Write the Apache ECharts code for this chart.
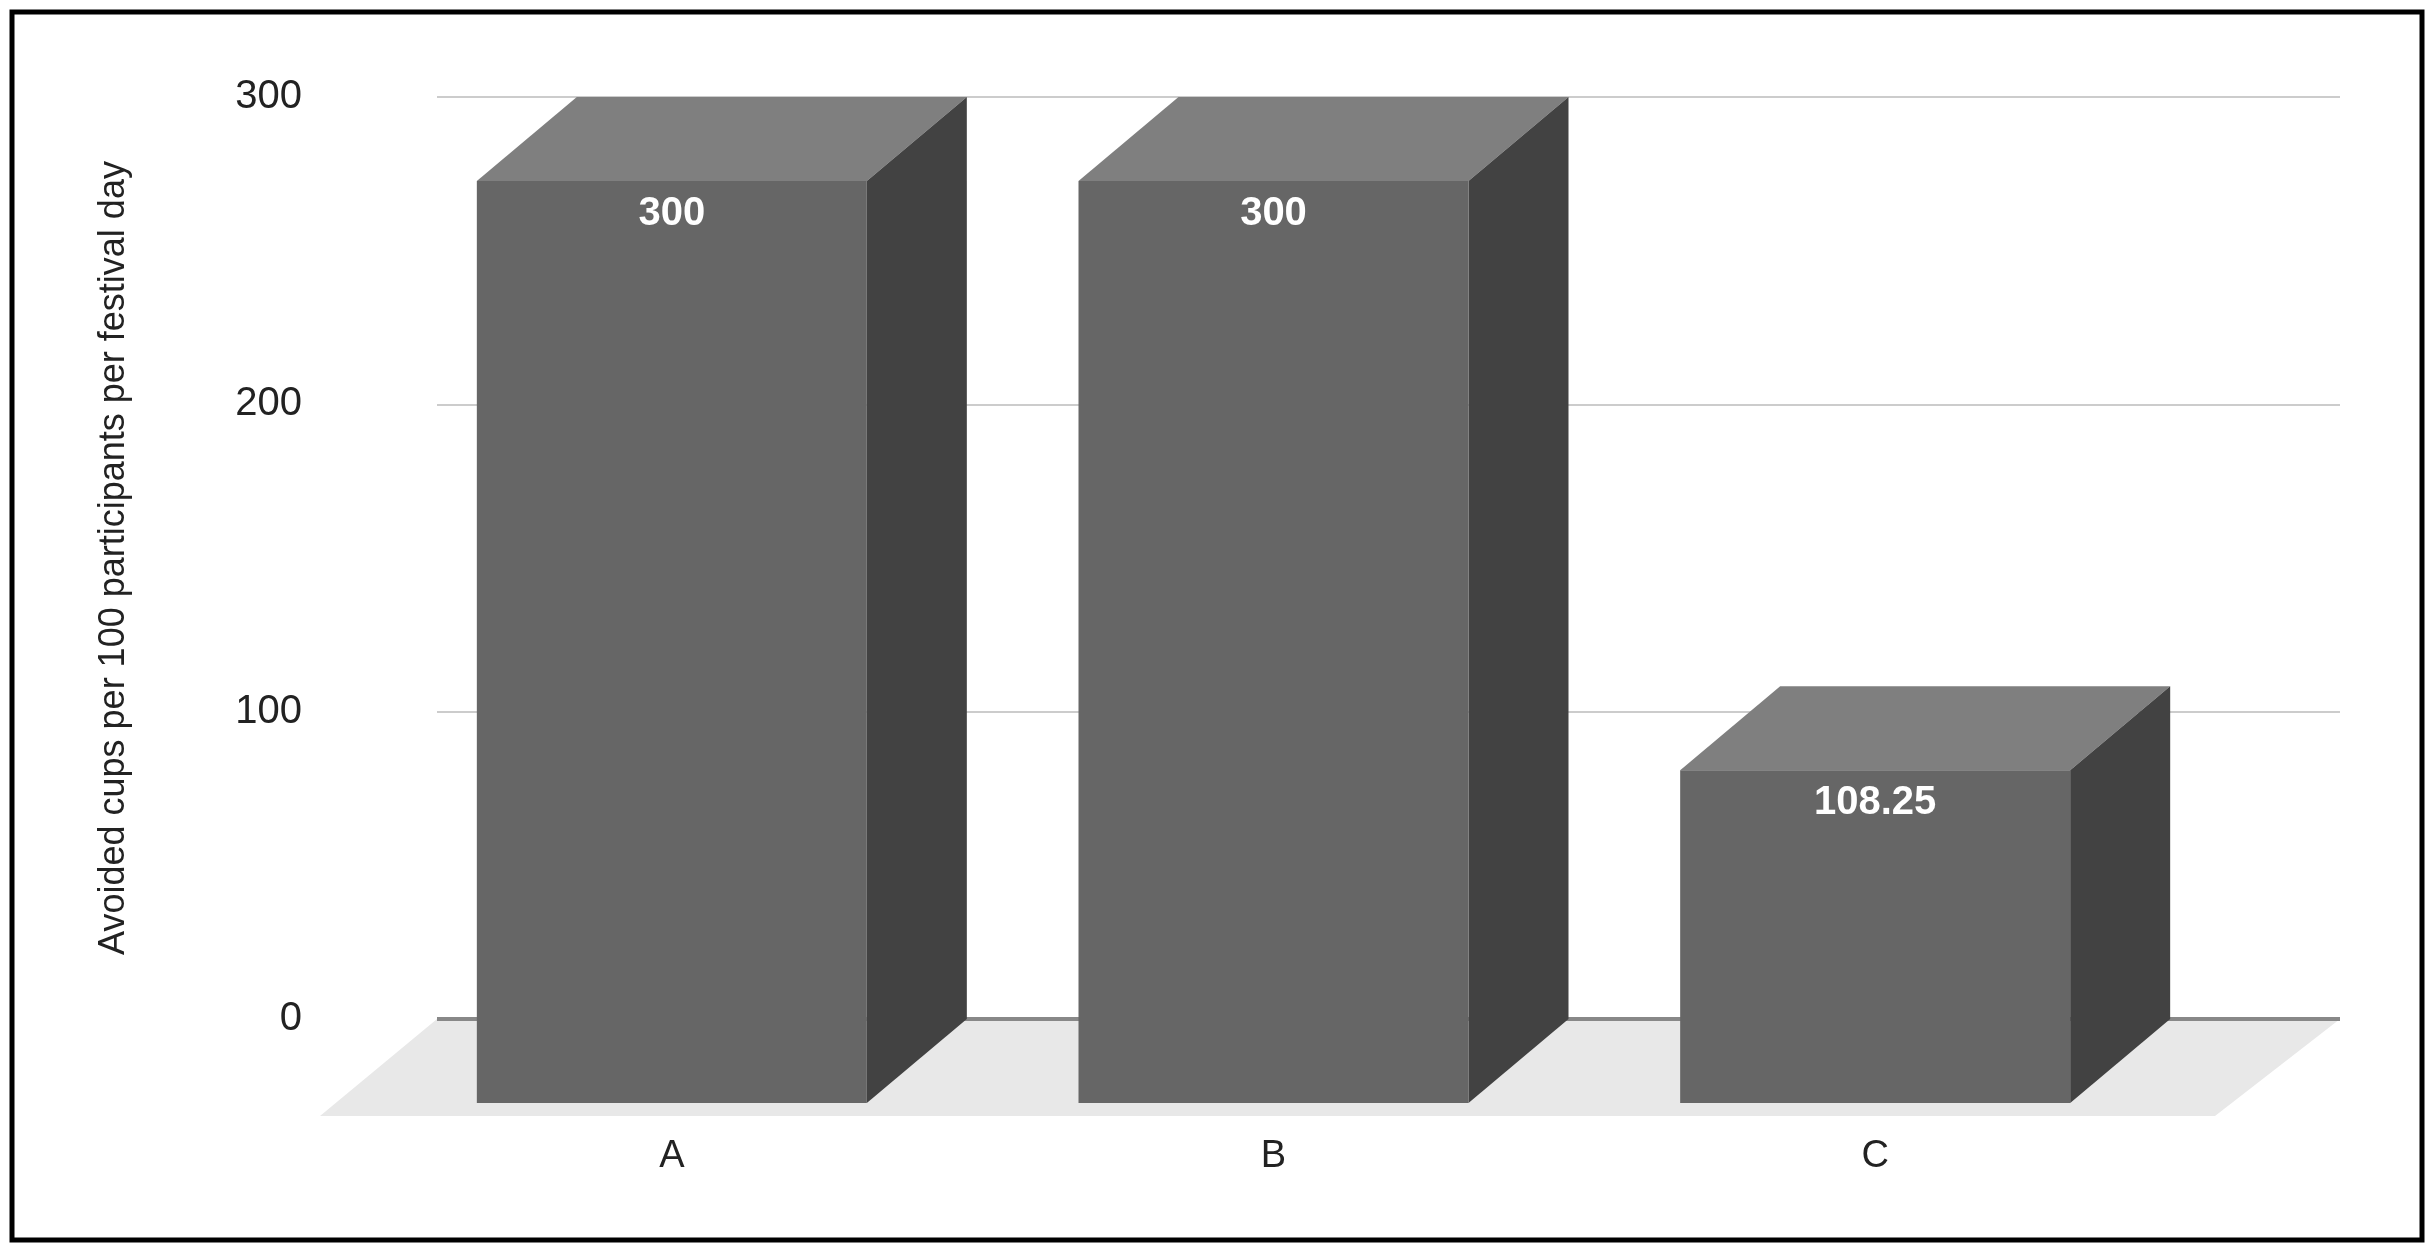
<!DOCTYPE html>
<html><head><meta charset="utf-8">
<script src="https://cdn.jsdelivr.net/npm/echarts@6/dist/echarts.min.js"></script>
<style>html,body{margin:0;padding:0;background:#fff}#c{width:2434px;height:1258px}</style>
</head><body><div id="c"></div>
<script>
const categories = ['A', 'B', 'C'];
const values = [300, 300, 108.25];
const labels = ['300', '300', '108.25'];
const yTicks = [0, 100, 200, 300];

const chart = echarts.init(document.getElementById('c'));
const DX = 100, DY = 84, BW = 390;
const font = 'Liberation Sans';
chart.setOption({
  animation: false,
  grid: [{left: 437, right: 94, top: 97, bottom: 239}, {left: 371, right: 258, top: 97, bottom: 239}],
  graphic: [{type: 'rect', shape: {x: 12, y: 12, width: 2410, height: 1228}, style: {fill: 'none', stroke: '#000', lineWidth: 5}, z: 100}],
  xAxis: [
    {type: 'value', gridIndex: 0, show: false, min: 0, max: 1},
    {type: 'category', gridIndex: 1, data: categories, axisLine: {show: false}, axisTick: {show: false},
      axisLabel: {margin: 119, fontSize: 38, color: '#222', fontFamily: font}}
  ],
  yAxis: [
    {type: 'value', gridIndex: 0, min: 0, max: 300, interval: 100,
      name: 'Avoided cups per 100 participants per festival day', nameLocation: 'middle', nameRotate: 90, nameGap: 305,
      nameTextStyle: {fontSize: 36, color: '#222', fontFamily: font},
      axisLabel: {margin: 135, fontSize: 40, color: '#222', fontFamily: font, formatter: v => yTicks.includes(v) ? String(v) : ''},
      splitLine: {lineStyle: {color: '#ccc', width: 2}}, axisLine: {show: false}, axisTick: {show: false}},
    {type: 'value', gridIndex: 1, min: 0, max: 300, interval: 100, show: false, splitLine: {show: false}}
  ],
  series: [
    {type: 'custom', xAxisIndex: 0, yAxisIndex: 0, z: 1, data: [0], renderItem: (p, api) => {
      const g = p.coordSys;
      const y0 = g.y + g.height;
      return {type: 'group', children: [
        {type: 'polygon', shape: {points: [[g.x, y0], [g.x + g.width, y0], [g.x + g.width - 125, y0 + 97], [g.x - 117, y0 + 97]]}, style: {fill: '#e8e8e8'}},
        {type: 'line', shape: {x1: g.x, y1: y0, x2: g.x + g.width, y2: y0}, style: {stroke: '#888', lineWidth: 4}}
      ]};
    }},
    {type: 'custom', xAxisIndex: 1, yAxisIndex: 1, z: 2, data: values.map((v, i) => [i, v]), renderItem: (p, api) => {
      const i = api.value(0), v = api.value(1);
      const top = api.coord([i, v]), bot = api.coord([i, 0]);
      const x1 = top[0] - BW / 2, x2 = top[0] + BW / 2;
      const ft = top[1] + DY, fb = bot[1] + DY;
      return {type: 'group', children: [
        {type: 'polygon', shape: {points: [[x1, ft], [x1 + DX, ft - DY], [x2 + DX, ft - DY], [x2, ft]]}, style: {fill: '#7f7f7f'}},
        {type: 'polygon', shape: {points: [[x2, ft], [x2 + DX, ft - DY], [x2 + DX, fb - DY], [x2, fb]]}, style: {fill: '#424242'}},
        {type: 'rect', shape: {x: x1, y: ft, width: BW, height: fb - ft}, style: {fill: '#666666'}},
        {type: 'text', style: {x: top[0], y: ft + 33, text: labels[p.dataIndex], fill: '#fff', fontSize: 40, fontWeight: 'bold', fontFamily: font, align: 'center', verticalAlign: 'middle'}}
      ]};
    }}
  ]
});
</script></body></html>
